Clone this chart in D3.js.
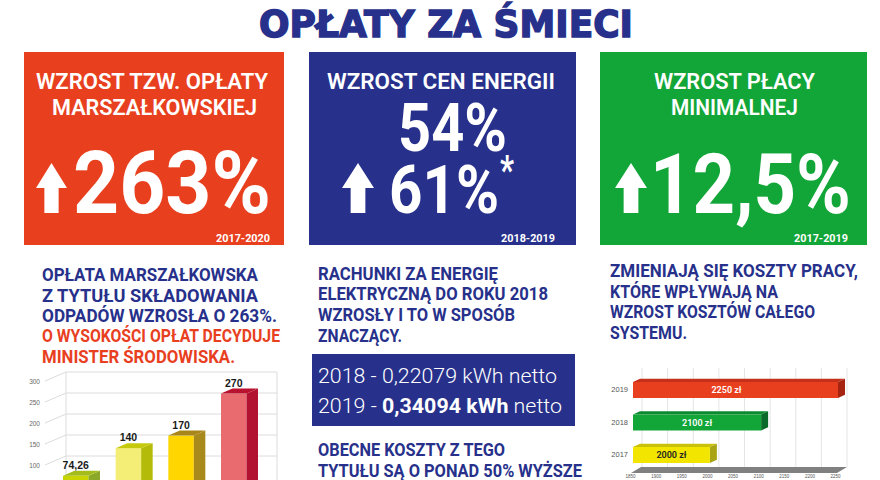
<!DOCTYPE html>
<html>
<head>
<meta charset="utf-8">
<script src="https://cdn.jsdelivr.net/npm/d3@7"></script>
<style>
  html, body { margin: 0; padding: 0; background: #fff; }
  svg { display: block; }
  text { font-family: Roboto, sans-serif; }
</style>
</head>
<body>
<svg id="chart" width="880" height="480"></svg>
<script>
// DATA - chart values
const feeYears = ["2017", "2018", "2019", "2020"];
const feeValues = [74.26, 140, 170, 270];
const feeLabels = ["74,26", "140", "170", "270"];
const feeTicks = [100, 150, 200, 250, 300];

const wageYears = ["2017", "2018", "2019"];
const wageValues = [2000, 2100, 2250];
const wageTicks = [1850, 1900, 1950, 2000, 2050, 2100, 2150, 2200, 2250];

// colours per bar: front, side, top
const feeColors = [
  ["#c9d500", "#8ba829", "#a5bd1c"],
  ["#f5ee76", "#b4bb08", "#c6ca0c"],
  ["#ffd600", "#a88a1c", "#a8861a"],
  ["#e96a6f", "#b11331", "#b9122f"]
];
const wageColors = [
  ["#f2e500", "#a9a414", "#c9c208"],
  ["#12a537", "#0b6a2a", "#0d8a30"],
  ["#e8401f", "#a82412", "#c5301a"]
];
const wageTextColors = ["#222", "#fff", "#fff"];

const BLUE = "#27318b", RED = "#e8401f", GREEN = "#12a537";

const svg = d3.select("#chart");

// draw a text squeezed to a known width, the reference font is not installed
function fit(sel, str, x0, x1, y, size, fill, weight) {
  return sel.append("text")
    .attr("x", x0)
    .attr("y", y)
    .attr("font-size", size)
    .attr("font-weight", weight || 700)
    .attr("fill", fill)
    .attr("textLength", x1 - x0)
    .attr("lengthAdjust", "spacingAndGlyphs")
    .text(str);
}

function arrow(sel, x0, x1, y0, y1) {
  const m = (x0 + x1) / 2, w = (x1 - x0) * 0.23, h = y0 + (y1 - y0) * 0.5;
  sel.append("path")
    .attr("fill", "#fff")
    .attr("d", `M${x0},${h}L${m},${y0}L${x1},${h}L${m + w},${h}L${m + w},${y1}L${m - w},${y1}L${m - w},${h}Z`);
}

// TITLE
fit(svg, "OPŁATY ZA ŚMIECI", 259, 633, 37, 38, BLUE)
  .style("font-family", "'DejaVu Sans'")
  .attr("stroke", BLUE)
  .attr("stroke-width", 1.5);

// PANELS
const panels = svg.append("g");
panels.append("rect").attr("x", 24).attr("y", 52).attr("width", 260).attr("height", 193).attr("fill", RED);
panels.append("rect").attr("x", 309).attr("y", 52).attr("width", 267).attr("height", 193).attr("fill", BLUE);
panels.append("rect").attr("x", 600).attr("y", 52).attr("width", 267).attr("height", 193).attr("fill", GREEN);

fit(panels, "WZROST TZW. OPŁATY", 36, 268, 89, 22.5, "#fff", 600);
fit(panels, "MARSZAŁKOWSKIEJ", 52, 257, 115, 22.5, "#fff", 600);
fit(panels, "263%", 73, 271, 213, 88, "#fff", 700);
arrow(panels, 36, 67, 163, 213);
fit(panels, "2017-2020", 216, 270, 242, 10, "#fff");

fit(panels, "WZROST CEN ENERGII", 327, 555, 89, 22.5, "#fff", 600);
fit(panels, "54%", 398, 507, 151, 66, "#fff", 700);
fit(panels, "61%", 389, 499, 213, 66, "#fff", 700);
fit(panels, "*", 500, 514, 184, 40, "#fff", 700);
arrow(panels, 342, 374, 163, 213);
fit(panels, "2018-2019", 501, 555, 242, 10, "#fff");

fit(panels, "WZROST PŁACY", 654, 815, 89, 22.5, "#fff", 600);
fit(panels, "MINIMALNEJ", 671, 798, 115, 22.5, "#fff", 600);
fit(panels, "12,5%", 650, 851, 213, 84, "#fff", 700);
arrow(panels, 615, 647, 163, 213);
fit(panels, "2017-2019", 794, 848, 242, 10, "#fff");

// COLUMN TEXT
const copy = svg.append("g");
fit(copy, "OPŁATA MARSZAŁKOWSKA", 42, 258, 281, 17.5, BLUE);
fit(copy, "Z TYTUŁU SKŁADOWANIA", 42, 258, 302, 17.5, BLUE);
fit(copy, "ODPADÓW WZROSŁA O 263%.", 42, 277, 322, 17.5, BLUE);
fit(copy, "O WYSOKOŚCI OPŁAT DECYDUJE", 42, 280, 342, 17.5, RED);
fit(copy, "MINISTER ŚRODOWISKA.", 42, 235, 363, 17.5, RED);

fit(copy, "RACHUNKI ZA ENERGIĘ", 318, 498, 280, 17.5, BLUE);
fit(copy, "ELEKTRYCZNĄ DO ROKU 2018", 318, 548, 300, 17.5, BLUE);
fit(copy, "WZROSŁY I TO W SPOSÓB", 318, 515, 321, 17.5, BLUE);
fit(copy, "ZNACZĄCY.", 318, 402, 342, 17.5, BLUE);

copy.append("rect").attr("x", 312).attr("y", 354).attr("width", 263).attr("height", 72).attr("fill", BLUE);
fit(copy, "2018 - 0,22079 kWh netto", 318, 557, 383, 20.5, "#fff", 300);
const rate = copy.append("text").attr("x", 318).attr("y", 413).attr("font-size", 20.5).attr("font-weight", 300).attr("fill", "#fff")
  .attr("textLength", 244).attr("lengthAdjust", "spacingAndGlyphs");
rate.append("tspan").text("2019 - ");
rate.append("tspan").attr("font-weight", 700).text("0,34094 kWh");
rate.append("tspan").text(" netto");

fit(copy, "OBECNE KOSZTY Z TEGO", 318, 505, 456, 17.5, BLUE);
fit(copy, "TYTUŁU SĄ O PONAD 50% WYŻSZE", 318, 582, 477, 17.5, BLUE);

fit(copy, "ZMIENIAJĄ SIĘ KOSZTY PRACY,", 610, 858, 277, 17.5, BLUE);
fit(copy, "KTÓRE WPŁYWAJĄ NA", 610, 778, 298, 17.5, BLUE);
fit(copy, "WZROST KOSZTÓW CAŁEGO", 610, 815, 318, 17.5, BLUE);
fit(copy, "SYSTEMU.", 610, 687, 339, 17.5, BLUE);

// LEFT CHART - 3d columns, runs off the bottom of the picture
const feeDx = 11.5, feeDy = 5, wallDx = 21, wallDy = 9;
const feeY = d3.scaleLinear().domain([0, 300]).range([507, 381]);
const feeX = d3.scaleBand().domain(feeYears).range([63, 246.5]).paddingInner(0.516);
const feeChart = svg.append("g");

feeChart.append("g").selectAll("path")
  .data(feeTicks)
  .join("path")
  .attr("fill", "none")
  .attr("stroke", "#dcdcdc")
  .attr("d", d => `M45,${feeY(d)}L${45 + wallDx},${feeY(d) - wallDy}L277,${feeY(d) - wallDy}`);
feeChart.append("path")
  .attr("fill", "none")
  .attr("stroke", "#dcdcdc")
  .attr("d", `M${45 + wallDx},${feeY(300) - wallDy}V480M277,${feeY(300) - wallDy}V480`);

const feeAxis = feeChart.append("g")
  .attr("transform", "translate(43,0)")
  .call(d3.axisLeft(feeY).tickValues(feeTicks).tickSize(0).tickPadding(3));
feeAxis.select(".domain").remove();
feeAxis.selectAll("text").attr("font-size", 6.5).attr("fill", "#666").style("font-family", "'Liberation Sans'");

const feeBars = feeChart.append("g").selectAll("g")
  .data(feeValues)
  .join("g");
feeBars.append("rect")
  .attr("x", (d, i) => feeX(feeYears[i]))
  .attr("y", d => feeY(d))
  .attr("width", feeX.bandwidth())
  .attr("height", d => feeY(0) - feeY(d))
  .attr("fill", (d, i) => feeColors[i][0]);
feeBars.append("path")
  .attr("fill", (d, i) => feeColors[i][1])
  .attr("d", (d, i) => {
    const r = feeX(feeYears[i]) + feeX.bandwidth();
    return `M${r},${feeY(d)}L${r + feeDx},${feeY(d) - feeDy}V${feeY(0)}H${r}Z`;
  });
feeBars.append("path")
  .attr("fill", (d, i) => feeColors[i][2])
  .attr("d", (d, i) => {
    const l = feeX(feeYears[i]), r = l + feeX.bandwidth();
    return `M${l},${feeY(d)}L${l + feeDx},${feeY(d) - feeDy}H${r + feeDx}L${r},${feeY(d)}Z`;
  });
feeBars.append("text")
  .attr("x", (d, i) => feeX(feeYears[i]) + feeX.bandwidth() / 2)
  .attr("y", d => feeY(d) - 7)
  .attr("text-anchor", "middle")
  .attr("font-size", 10.5)
  .attr("font-weight", 700)
  .attr("fill", "#1a1a1a")
  .style("font-family", "'Liberation Sans'")
  .text((d, i) => feeLabels[i]);

// RIGHT CHART - 3d horizontal bars
const wageDx = 7, wageDy = 3.3;
const wageX = d3.scaleLinear().domain([1850, 2250]).range([633, 838]);
const wageY = d3.scaleBand().domain(wageYears).range([463, 382]).paddingInner(0.508);
const wageChart = svg.append("g");

wageChart.append("g").selectAll("line")
  .data(wageTicks)
  .join("line")
  .attr("x1", d => wageX(d) + 9)
  .attr("x2", d => wageX(d) + 9)
  .attr("y1", 368)
  .attr("y2", 467)
  .attr("stroke", "#e4e4e4");
wageChart.append("path")
  .attr("fill", "#808080")
  .attr("d", `M${wageX(1850) - 2},473L${wageX(1850) + 8},467H847L837,473Z`);

const wageAxis = wageChart.append("g")
  .attr("transform", "translate(-3,472)")
  .call(d3.axisBottom(wageX).tickValues(wageTicks).tickSize(0).tickPadding(3).tickFormat(d3.format("d")));
wageAxis.select(".domain").remove();
wageAxis.selectAll("text").attr("font-size", 4.5).attr("fill", "#555").style("font-family", "'Liberation Sans'");

const wageAxisY = wageChart.append("g")
  .attr("transform", "translate(628,0)")
  .call(d3.axisLeft(wageY).tickSize(0).tickPadding(0));
wageAxisY.select(".domain").remove();
wageAxisY.selectAll("text").attr("font-size", 7.5).attr("fill", "#555").style("font-family", "'Liberation Sans'");

const wageBars = wageChart.append("g").selectAll("g")
  .data(wageValues)
  .join("g");
wageBars.append("path")
  .attr("fill", (d, i) => wageColors[i][2])
  .attr("d", (d, i) => {
    const t = wageY(wageYears[i]);
    return `M${wageX(1850)},${t}L${wageX(1850) + wageDx},${t - wageDy}H${wageX(d) + wageDx}L${wageX(d)},${t}Z`;
  });
wageBars.append("path")
  .attr("fill", (d, i) => wageColors[i][1])
  .attr("d", (d, i) => {
    const t = wageY(wageYears[i]), b = t + wageY.bandwidth();
    return `M${wageX(d)},${t}L${wageX(d) + wageDx},${t - wageDy}V${b - wageDy}L${wageX(d)},${b}Z`;
  });
wageBars.append("rect")
  .attr("x", wageX(1850))
  .attr("y", (d, i) => wageY(wageYears[i]))
  .attr("width", d => wageX(d) - wageX(1850))
  .attr("height", wageY.bandwidth())
  .attr("fill", (d, i) => wageColors[i][0]);
// the label of the long bar sits a bit left of its middle in the reference
wageBars.append("text")
  .attr("x", d => (wageX(d) + wageX(1850)) / 2 - (d === 2250 ? 9 : 0))
  .attr("y", (d, i) => wageY(wageYears[i]) + wageY.bandwidth() / 2 + 3)
  .attr("text-anchor", "middle")
  .attr("font-size", 9)
  .attr("font-weight", 600)
  .attr("fill", (d, i) => wageTextColors[i])
  .text(d => d + " zł");
</script>
</body>
</html>
